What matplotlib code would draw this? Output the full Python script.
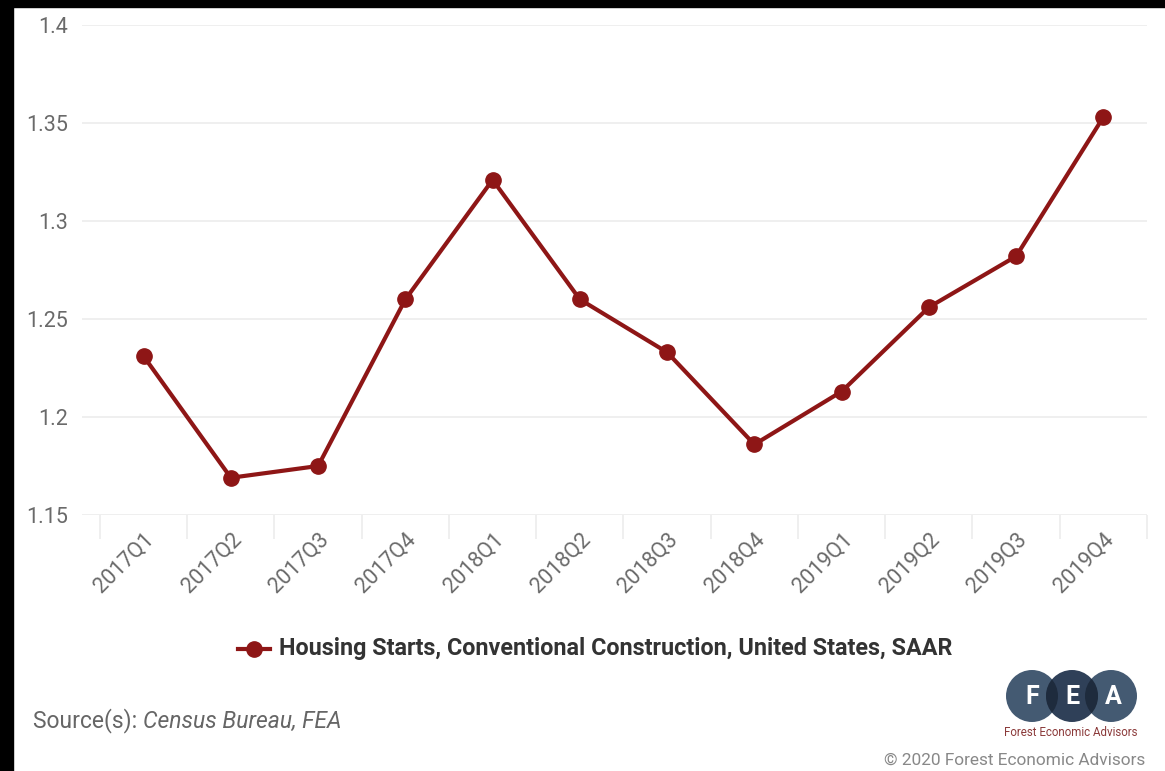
import matplotlib
matplotlib.use("Agg")
import matplotlib.pyplot as plt
from matplotlib.patches import Circle, Rectangle

# data
quarters = ["2017Q1", "2017Q2", "2017Q3", "2017Q4",
            "2018Q1", "2018Q2", "2018Q3", "2018Q4",
            "2019Q1", "2019Q2", "2019Q3", "2019Q4"]
starts = [1.231, 1.169, 1.175, 1.260,
          1.321, 1.260, 1.233, 1.186,
          1.213, 1.256, 1.282, 1.353]
y_ticks = [1.15, 1.2, 1.25, 1.3, 1.35, 1.4]
series_name = "Housing Starts, Conventional Construction, United States, SAAR"

LINE = "#8e1616"
plt.rcParams['font.family'] = ['Roboto', 'DejaVu Sans']

W, H = 1165, 771
fig = plt.figure(figsize=(W / 100, H / 100), dpi=100)
fig.patch.set_facecolor("white")

ax = fig.add_axes([82 / W, 1 - 515 / H, (1147 - 82) / W, (515 - 25) / H])
x = list(range(len(quarters)))
ax.plot(x, starts, color=LINE, lw=3, marker="o", ms=11, zorder=3)

ax.set_ylim(1.15, 1.4)
ax.set_xlim(-0.5 - 18 / 87.3, len(quarters) - 0.5)
ax.set_yticks(y_ticks)
ax.set_yticklabels([f"{v:g}" for v in y_ticks], fontsize=15.5, color="#6a6a6a")
ax.grid(axis="y", color="#eeeeee", lw=1.3)
ax.set_axisbelow(True)
for s in ax.spines.values():
    s.set_visible(False)
ax.tick_params(axis="y", length=0, pad=10)

# category labels + boundary ticks
ax.set_xticks(x)
ax.set_xticklabels(quarters, rotation=45, ha="right", rotation_mode="anchor",
                   fontsize=15.5, color="#6a6a6a")
ax.tick_params(axis="x", length=0, pad=10)
ax.set_xticks([i - 0.5 for i in range(len(quarters) + 1)], minor=True)
ax.tick_params(axis="x", which="minor", length=17, color="#eeeeee", width=1.3)

# legend
fig.lines.append(plt.Line2D([238 / W, 270 / W], [1 - 649 / H] * 2, color=LINE, lw=3,
                            transform=fig.transFigure))
fig.lines.append(plt.Line2D([254 / W], [1 - 649 / H], color=LINE, marker="o", ms=11,
                            transform=fig.transFigure))
fig.text(279 / W, 1 - 649 / H, series_name, fontsize=16.8, fontweight="bold",
         color="#333333", va="center", ha="left")

# source
src = fig.text(33 / W, 1 - 727 / H, "Source(s): ", fontsize=16.5, color="#666666",
               va="baseline")
ax.annotate("Census Bureau, FEA", xy=(1, 0), xycoords=src, fontsize=16.5,
            color="#666666", style="italic", va="bottom", ha="left",
            annotation_clip=False)
fig.text(1145 / W, 1 - 760 / H, "\u00a9 2020 Forest Economic Advisors", fontsize=12.4,
         color="#888888", va="center", ha="right")

# FEA logo
lax = fig.add_axes([1000 / W, 1 - 726 / H, 145 / W, 60 / H])
lax.set_xlim(1000, 1145)
lax.set_ylim(726, 666)
lax.set_aspect("equal")
lax.axis("off")
r = 26
left = Circle((1032, 696), r, color="#445a72", ec="none")
right = Circle((1111, 696), r, color="#445a72", ec="none")
mid = Circle((1072, 696), r, color="#2f4058", ec="none")
for p in (left, right, mid):
    lax.add_patch(p)
for cx in (1032, 1111):
    lens = Circle((cx, 696), r, color="#1e2b3d", ec="none")
    lax.add_patch(lens)
    lens.set_clip_path(mid)
for cx, ch in [(1032, "F"), (1072, "E"), (1113, "A")]:
    lax.text(cx, 697, ch, color="white", fontsize=18, fontweight="bold",
             ha="center", va="center", zorder=5)
fig.text(1071 / W, 1 - 733 / H, "Forest Economic Advisors", fontsize=8.3,
         color="#8b3a3a", ha="center", va="center")

# black frame at top and left of the screenshot
fig.patches.append(Rectangle((0, 1 - 7 / H), 1, 7 / H, transform=fig.transFigure,
                             color="black", zorder=10))
fig.patches.append(Rectangle((0, 0), 13 / W, 1, transform=fig.transFigure,
                             color="black", zorder=10))

fig.savefig("out.png", dpi=100)
